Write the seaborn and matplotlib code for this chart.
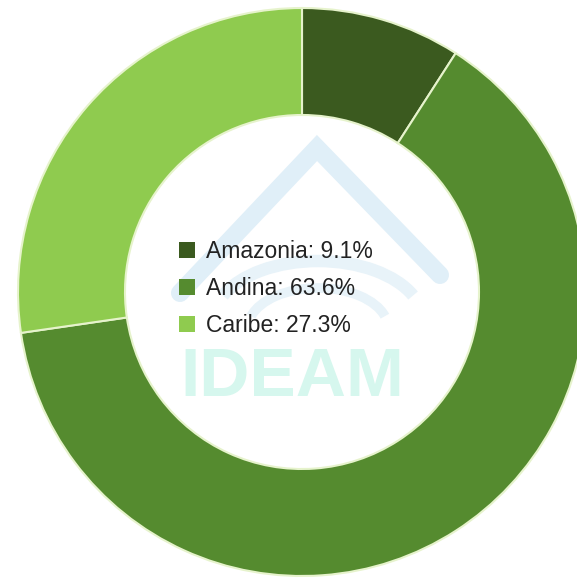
import matplotlib
matplotlib.use('Agg')
import matplotlib.pyplot as plt
import seaborn as sns
from matplotlib.patches import Patch, Arc

# Data
regions = ['Amazonia', 'Andina', 'Caribe']
shares = [9.1, 63.6, 27.3]
colors = ['#3b5a1f', '#558b2f', '#8fcb4f']

sns.set_theme(style='white')
plt.rcParams['font.family'] = ['Liberation Sans', 'DejaVu Sans']

fig = plt.figure(figsize=(5.77, 5.83), dpi=100)
ax = fig.add_axes([0, 0, 1, 1])

# Watermark (faint IDEAM logo behind the legend)
ax.plot([180, 317, 440], [290, 435, 308], color='#e0eff8', lw=13,
        solid_joinstyle='miter', zorder=0)
ax.add_patch(Arc((318, 262), 210, 120, theta1=15, theta2=165,
                 color='#e8f3f9', lw=9, zorder=0))
ax.add_patch(Arc((318, 255), 140, 80, theta1=10, theta2=170,
                 color='#e8f3f9', lw=7, zorder=0))
ax.text(292, 205, 'IDEAM', color='#d6f7ee', fontsize=50, fontweight='bold',
        ha='center', va='center', zorder=0)

# Donut
ax.pie(shares, colors=colors, startangle=90, counterclock=False,
       center=(302, 291), radius=284,
       wedgeprops=dict(width=107, edgecolor='#e6f3cc', linewidth=1.5))

ax.set_xlim(0, 577)
ax.set_ylim(0, 583)
ax.set_aspect('equal')
ax.axis('off')

handles = [Patch(facecolor=c, edgecolor='none') for c in colors]
labels = [f'{r}: {s}%' for r, s in zip(regions, shares)]
ax.legend(handles, labels, loc='upper left', bbox_to_anchor=(179 / 577, 1 - 240 / 583),
          frameon=False, fontsize=16.5, handlelength=0.7, handleheight=0.7,
          handletextpad=0.5, labelspacing=0.61, borderpad=0, borderaxespad=0,
          labelcolor='#222222')

fig.savefig('out.png', dpi=100)
